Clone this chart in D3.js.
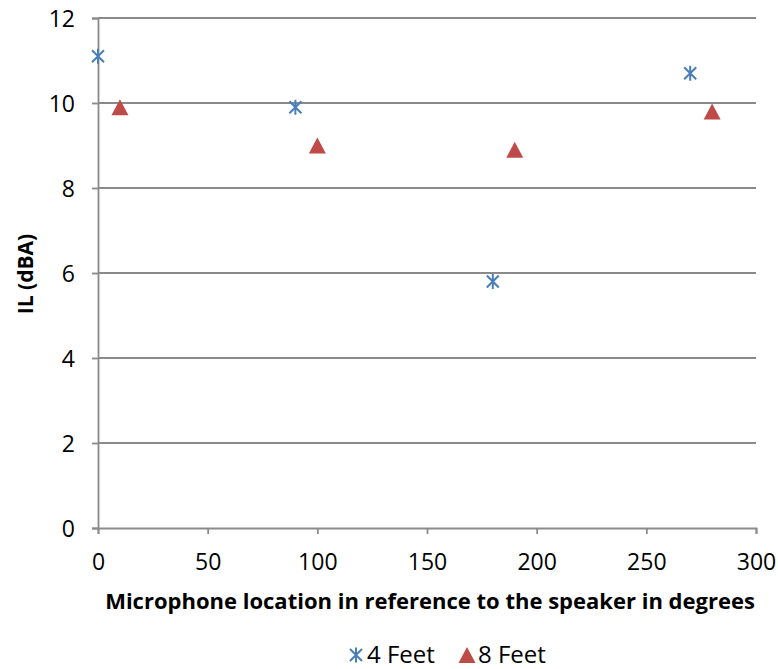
<!DOCTYPE html>
<html>
<head>
<meta charset="utf-8">
<script src="https://cdn.jsdelivr.net/npm/d3@7"></script>
<style>
  body { margin: 0; background: #fff; }
  text { font-family: "Open Sans", "Noto Sans", sans-serif; }
</style>
</head>
<body>
<div id="chart"></div>
<script>
// data
var feet4X = [0, 90, 180, 270];
var feet4Y = [11.1, 9.9, 5.8, 10.7];
var feet8X = [10, 100, 190, 280];
var feet8Y = [9.9, 9.0, 8.9, 9.8];
var xTicks = [0, 50, 100, 150, 200, 250, 300];
var yTicks = [0, 2, 4, 6, 8, 10, 12];
var seriesNames = ["4 Feet", "8 Feet"];

var width = 778, height = 669;
var plotL = 98, plotR = 756, plotT = 18, plotB = 528;
var blue = "#4a7ebb", red = "#be4b48", grid = "#8a8a8a";

var svg = d3.select("#chart").append("svg")
    .attr("width", width)
    .attr("height", height);

var x = d3.scaleLinear().domain([0, 300]).range([plotL, plotR]);
var y = d3.scaleLinear().domain([0, 12]).range([plotB, plotT]);

// horizontal gridlines
svg.append("g").selectAll("line")
    .data(yTicks.filter(function(d){ return d > 0; }))
    .enter().append("line")
    .attr("x1", plotL).attr("x2", plotR)
    .attr("y1", function(d){ return y(d); })
    .attr("y2", function(d){ return y(d); })
    .attr("stroke", grid).attr("stroke-width", 1.8);

var yAxis = svg.append("g")
    .attr("transform", "translate(" + plotL + ",0)")
    .call(d3.axisLeft(y).tickValues(yTicks).tickSize(6).tickPadding(17).tickFormat(d3.format("d")));
var xAxis = svg.append("g")
    .attr("transform", "translate(0," + plotB + ")")
    .call(d3.axisBottom(x).tickValues(xTicks).tickSize(6).tickFormat(d3.format("d")));

[yAxis, xAxis].forEach(function(a){
    a.select(".domain").attr("stroke", grid).attr("stroke-width", 1.8);
    a.selectAll(".tick line").attr("stroke", grid).attr("stroke-width", 1.8);
    a.selectAll(".tick text")
        .attr("fill", "#000")
        .style("font-size", "23px")
        .style("font-family", "'Open Sans', 'Noto Sans', sans-serif");
});
xAxis.selectAll(".tick text").attr("y", 42).attr("dy", 0);
yAxis.selectAll(".tick text").attr("dy", "0.35em");

// axis titles
svg.append("text")
    .attr("transform", "translate(33,274) rotate(-90)")
    .attr("text-anchor", "middle")
    .style("font-size", "21px").style("font-weight", "bold")
    .text("IL (dBA)");
svg.append("text")
    .attr("x", 430).attr("y", 609)
    .attr("text-anchor", "middle")
    .style("font-size", "22px").style("font-weight", "bold")
    .text("Microphone location in reference to the speaker in degrees");

function star(g) {
    g.append("path")
        .attr("d", "M-6,-6L6,6M-6,6L6,-6M0,-7.5L0,7.5")
        .attr("stroke", blue).attr("stroke-width", 2).attr("fill", "none");
}
function tri(g) {
    g.append("path")
        .attr("d", "M0,-8L8.5,8L-8.5,8Z")
        .attr("fill", red);
}

// 4 Feet
feet4X.forEach(function(d, i){
    star(svg.append("g").attr("transform", "translate(" + x(d) + "," + y(feet4Y[i]) + ")"));
});
// 8 Feet
feet8X.forEach(function(d, i){
    tri(svg.append("g").attr("transform", "translate(" + x(d) + "," + y(feet8Y[i]) + ")"));
});

// legend
star(svg.append("g").attr("transform", "translate(356,655)"));
svg.append("text").attr("x", 367).attr("y", 663)
    .style("font-size", "24px").text(seriesNames[0]);
tri(svg.append("g").attr("transform", "translate(467,655)"));
svg.append("text").attr("x", 478).attr("y", 663)
    .style("font-size", "24px").text(seriesNames[1]);
</script>
</body>
</html>
